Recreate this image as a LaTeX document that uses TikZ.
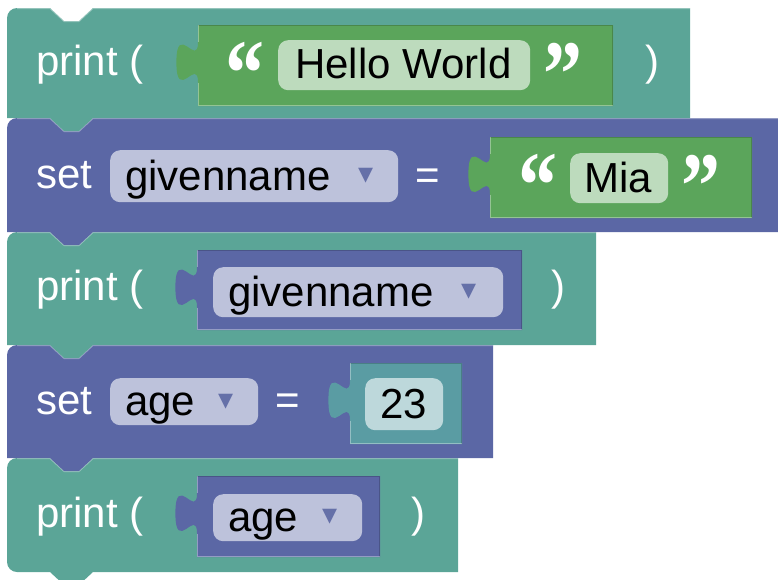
\documentclass[tikz,border=0pt]{standalone}
\usepackage{fontspec}
\setmainfont{Liberation Sans}
\newfontfamily\quotefont{Liberation Serif}
\newfontfamily\arrowfont{DejaVu Sans}
\definecolor{blkteal}{HTML}{5BA597}
\definecolor{blkpurple}{HTML}{5B67A5}
\definecolor{blkgreen}{HTML}{5BA55B}
\definecolor{blknum}{HTML}{5A9CA3}
\definecolor{pillgreen}{HTML}{BDDBBD}
\definecolor{pillpurple}{HTML}{BDC2DB}
\definecolor{pillnum}{HTML}{BDD8DB}
\definecolor{arrowcol}{HTML}{6570A8}
\newcommand\tallq[1]{\scalebox{1}[1.22]{#1}}
\tikzset{
  lbl/.style={text=white, inner sep=0pt, anchor=base west, font=\fontsize{42}{50}\selectfont},
  val/.style={text=black, inner sep=0pt, anchor=base west, font=\fontsize{42}{50}\selectfont},
  qmark/.style={text=white, inner sep=0pt, anchor=base, font=\quotefont\bfseries\fontsize{78}{86}\selectfont},
  ddarrow/.style={text=arrowcol, inner sep=0pt, anchor=center, font=\arrowfont\fontsize{30}{32}\selectfont},
  pill/.style={rounded corners=10pt, inner sep=0pt, anchor=north west, draw=none},
}
% outer statement block: colour, right x, top y, bottom y
\newcommand\stmtblock[4]{%
  \fill[#1] (7,#4) -- (7,#3+10) .. controls (7,#3+4.5) and (11.5,#3) .. (17,#3)
    -- (50,#3) -- (64,#3+13) -- (79,#3+13) -- (93,#3) -- (#2,#3) -- (#2,#4)
    -- (93,#4) -- (79,#4+13) -- (64,#4+13) -- (50,#4) -- cycle;
  \draw[white, opacity=0.35, line width=1pt] (17,#3+0.5) -- (50,#3+0.5) -- (64,#3+13.5) -- (79,#3+13.5) -- (93,#3+0.5) -- (#2,#3+0.5);
}
% last statement block (rounded bottom-left corner)
\newcommand\laststmtblock[4]{%
  \fill[#1] (7,#4-10) -- (7,#3+10) .. controls (7,#3+4.5) and (11.5,#3) .. (17,#3)
    -- (50,#3) -- (64,#3+13) -- (79,#3+13) -- (93,#3) -- (#2,#3) -- (#2,#4)
    -- (93,#4) -- (79,#4+13) -- (64,#4+13) -- (50,#4) -- (17,#4)
    .. controls (11.5,#4) and (7,#4-4.5) .. (7,#4-10) -- cycle;
  \draw[white, opacity=0.35, line width=1pt] (17,#3+0.5) -- (50,#3+0.5) -- (64,#3+13.5) -- (79,#3+13.5) -- (93,#3+0.5) -- (#2,#3+0.5);
}
% value block with output tab: colour, left x, right x, top y, bottom y
\newcommand\valblock[5]{%
  \fill[#1] (#2,#4) -- (#3,#4) -- (#3,#5) -- (#2,#5) -- (#2,#4+57.5)
    .. controls (#2,#4+30.5) and (#2-21.6,#4+79.1) .. (#2-21.6,#4+37.25)
    .. controls (#2-21.6,#4-4.6) and (#2,#4+44) .. (#2,#4+17) -- cycle;
  \draw[black, opacity=0.18, line width=1pt] (#2,#4+0.5) -- (#3-0.5,#4+0.5) -- (#3-0.5,#5);
  \draw[white, opacity=0.35, line width=1pt] (#2+0.5,#4) -- (#2+0.5,#4+17) (#2+0.5,#4+57.5) -- (#2+0.5,#5-0.5) -- (#3,#5-0.5);
}
\begin{document}
\begin{tikzpicture}[x=1pt,y=-1pt]
\useasboundingbox (0,0) rectangle (778,579);

% ---- outer blocks, drawn bottom-up so each tab covers the notch below ----
\laststmtblock{blkteal}{458}{458}{572}
\stmtblock{blkpurple}{493}{345}{458}
\stmtblock{blkteal}{596}{232}{345}
\stmtblock{blkpurple}{778}{118}{232}
\stmtblock{blkteal}{690}{8}{118}

% ---- block 1: print ( "Hello World" ) ----
\node[lbl] (print1) at (36,75) {print (};
\valblock{blkgreen}{198}{613}{25}{106}
\node[qmark] (q1open) at (245,105) {\tallq{“}};
\node[pill, fill=pillgreen, minimum width=252pt, minimum height=50pt] (pill1) at (278,40) {};
\node[val] (hello) at (295,78) {Hello World};
\node[qmark] (q1close) at (563,106) {\tallq{”}};
\node[lbl] (close1) at (645,75) {)};

% ---- block 2: set givenname = "Mia" ----
\node[lbl] (set2) at (36,188) {set};
\node[pill, fill=pillpurple, minimum width=288pt, minimum height=52pt] (pill2) at (110,150) {};
\node[val] (gname2) at (125,190) {givenname};
\node[ddarrow] (arr2) at (366,176) {▾};
\node[lbl] (eq2) at (415,189) {=};
\valblock{blkgreen}{490}{752}{137}{218}
\node[qmark] (q2open) at (538,217) {\tallq{“}};
\node[pill, fill=pillgreen, minimum width=98pt, minimum height=50pt] (pill3) at (570,153) {};
\node[val] (mia) at (584,192) {Mia};
\node[qmark] (q2close) at (701,218) {\tallq{”}};

% ---- block 3: print ( givenname ) ----
\node[lbl] (print3) at (36,300) {print (};
\valblock{blkpurple}{197}{522}{250}{330}
\node[pill, fill=pillpurple, minimum width=290pt, minimum height=50pt] (pill4) at (213,267) {};
\node[val] (gname3) at (228,306) {givenname};
\node[ddarrow] (arr3) at (469,292) {▾};
\node[lbl] (close3) at (551,300) {)};

% ---- block 4: set age = 23 ----
\node[lbl] (set4) at (36,414) {set};
\node[pill, fill=pillpurple, minimum width=148pt, minimum height=47pt] (pill5) at (110,378) {};
\node[val] (age4) at (125,415) {age};
\node[ddarrow] (arr4) at (226,402) {▾};
\node[lbl] (eq4) at (275,414) {=};
\valblock{blknum}{350}{462}{363}{444}
\node[pill, fill=pillnum, minimum width=78pt, minimum height=52pt] (pill6) at (365,378) {};
\node[val, anchor=base] (num) at (404,418) {23};

% ---- block 5: print ( age ) ----
\node[lbl] (print5) at (36,527) {print (};
\valblock{blkpurple}{197}{380}{476}{557}
\node[pill, fill=pillpurple, minimum width=149pt, minimum height=47pt] (pill7) at (213,494) {};
\node[val] (age5) at (228,531) {age};
\node[ddarrow] (arr5) at (330,517) {▾};
\node[lbl] (close5) at (411,527) {)};
\end{tikzpicture}
\end{document}
